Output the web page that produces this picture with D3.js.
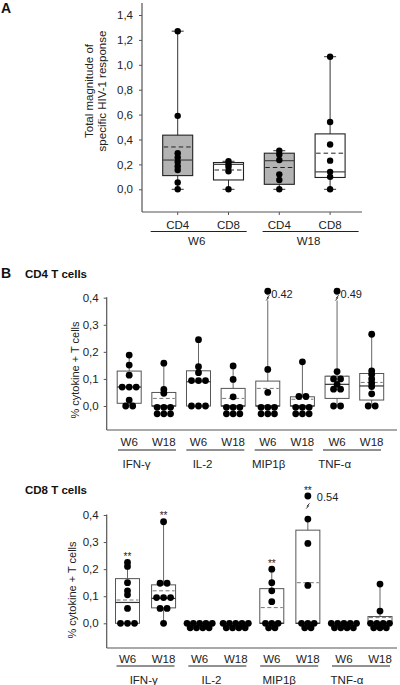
<!DOCTYPE html>
<html><head><meta charset="utf-8">
<script src="https://cdn.jsdelivr.net/npm/d3@7"></script>
<style>body{margin:0;background:#fff}svg{display:block}</style>
</head><body><svg id="c" width="400" height="685"></svg>
<script>
// ---------- Panel A data ----------
const aCategories = ["CD4", "CD8", "CD4", "CD8"];
const aWeeks = ["W6", "W18"];
const aFillGray = [true, false, true, false];
const aPoints = [
  [1.27, 0.59, 0.29, 0.255, 0.22, 0.185, 0.155, 0.055, 0],
  [0.225, 0.2, 0.18, 0.145, 0],
  [0.31, 0.28, 0.235, 0.12, 0.075, 0],
  [1.065, 0.54, 0.36, 0.23, 0.14, 0.1, 0]
];
const aQ1 = [0.11, 0.075, 0.04, 0.095];
const aMedian = [0.235, 0.2, 0.23, 0.14];
const aQ3 = [0.435, 0.215, 0.29, 0.445];
const aMean = [0.34, 0.155, 0.175, 0.29];
const aTicks = [0, 0.2, 0.4, 0.6, 0.8, 1.0, 1.2, 1.4];

// ---------- Panel B data ----------
const cytokines = ["IFN-γ", "IL-2", "MIP1β", "TNF-α"];
const weeks = ["W6", "W18"];
const bTicks = [0, 0.1, 0.2, 0.3, 0.4];
// order: IFN W6, IFN W18, IL-2 W6, IL-2 W18, MIP W6, MIP W18, TNF W6, TNF W18
const cd4Points = [
  [0.188, 0.151, 0.114, 0.07, 0.07, 0.07, 0.022, 0, 0],
  [0.158, 0.061, 0.047, 0, 0, 0, 0, 0, 0],
  [0.245, 0.145, 0.123, 0.094, 0.094, 0.094, 0, 0, 0],
  [0.148, 0.098, 0.034, 0, 0, 0, 0, 0, 0],
  [0.42, 0.135, 0.05, 0, 0, 0, 0, 0, 0],
  [0.163, 0.035, 0.035, 0, 0, 0, 0, 0, 0],
  [0.49, 0.127, 0.1, 0.1, 0.08, 0.062, 0.062, 0, 0],
  [0.265, 0.13, 0.117, 0.1, 0.085, 0.072, 0.045, 0, 0]
];
const cd4Q1 = [0.01, 0, 0, 0, 0, 0, 0.028, 0.022];
const cd4Median = [0.07, 0, 0.09, 0, 0, 0, 0.08, 0.074];
const cd4Q3 = [0.129, 0.05, 0.13, 0.065, 0.092, 0.034, 0.11, 0.12];
const cd4Mean = [0.072, 0.028, 0.09, 0.028, 0.065, 0.025, 0.11, 0.087];
const cd4WhiskerHi = [0.188, 0.158, 0.245, 0.148, 0.42, 0.163, 0.49, 0.265];
const cd4Sig = ["", "", "", "", "", "", "", ""];

const cd8Points = [
  [0.225, 0.21, 0.15, 0.12, 0.105, 0.055, 0, 0, 0],
  [0.375, 0.148, 0.148, 0.095, 0.095, 0.095, 0.055, 0.055, 0],
  [0, 0, 0, 0, 0, 0, 0, 0, 0],
  [0, 0, 0, 0, 0, 0, 0, 0, 0],
  [0.2, 0.15, 0.12, 0.08, 0, 0, 0, 0, 0],
  [0.54, 0.385, 0.295, 0.14, 0, 0, 0, 0, 0],
  [0, 0, 0, 0, 0, 0, 0, 0, 0],
  [0.145, 0.045, 0, 0, 0, 0, 0, 0, 0]
];
const cd8Q1 = [0, 0.057, null, null, 0, 0, null, 0];
const cd8Median = [0.077, 0.092, null, null, 0, 0, null, 0];
const cd8Q3 = [0.165, 0.142, null, null, 0.128, 0.344, null, 0.025];
const cd8Mean = [0.086, 0.12, null, null, 0.058, 0.15, null, 0.021];
const cd8WhiskerHi = [0.225, 0.375, 0, 0, 0.2, 0.385, 0, 0.145];
const cd8Sig = ["**", "**", "", "", "**", "**", "", ""];

// ---------- helpers ----------
const FONT = '"Liberation Sans", Arial, Helvetica, sans-serif';
const TXT = "#222";
const comma = v => d3.format(".1f")(v).replace(".", ",");
const svg = d3.select("#c").style("font-family", FONT);

function dotLayout(vals, cx, yf) {
  const out = [];
  const groups = d3.groups(vals, v => v.toFixed(3));
  for (const [, arr] of groups) {
    const v = arr[0], n = arr.length, y = yf(v);
    if (n <= 3) {
      arr.forEach((_, i) => out.push([cx + (i - (n - 1) / 2) * 7, y]));
    } else {
      const top = Math.ceil(n / 2), bot = n - top, grid = top === bot;
      const dx = grid ? 6.7 : 6.3, dy = grid ? 6.5 : 4.5, y1 = y + (grid ? 1.3 : 0);
      for (let i = 0; i < top; i++) out.push([cx + (i - (top - 1) / 2) * dx, y1]);
      for (let i = 0; i < bot; i++) out.push([cx + (i - (bot - 1) / 2) * dx, y1 + dy]);
    }
  }
  return out;
}

// ---------- Panel A ----------
(function () {
  const g = svg.append("g");
  const x = d3.scaleBand().domain(d3.range(aCategories.length)).range([152.3, 355.5]);
  const y = d3.scaleLinear().domain([0, 1.4]).range([189.3, 15]);
  const wk = d3.scalePoint().domain(aWeeks).range([198.7, 310.6]);
  const bw = 30;

  g.append("text").text("A").attr("x", 1).attr("y", 13)
    .attr("font-size", 14).attr("font-weight", "bold").attr("fill", "#111");

  g.append("line").attr("x1", 142).attr("x2", 142).attr("y1", 3).attr("y2", 212)
    .attr("stroke", "#555").attr("stroke-width", 1.2);
  g.append("line").attr("x1", 142).attr("x2", 362).attr("y1", 212).attr("y2", 212)
    .attr("stroke", "#555").attr("stroke-width", 1.2);

  const ya = g.append("g").attr("transform", "translate(142,0)")
    .call(d3.axisLeft(y).tickValues(aTicks).tickSize(3).tickPadding(6).tickFormat(comma));
  ya.select(".domain").remove();
  ya.selectAll("line").attr("stroke", "#555");
  ya.selectAll("text").attr("font-size", 11.5).attr("fill", TXT).attr("font-family", FONT);

  const title = g.append("text").attr("transform", "translate(92.5,91) rotate(-90)")
    .attr("text-anchor", "middle").attr("font-size", 11.5).attr("fill", TXT);
  title.append("tspan").attr("x", 0).attr("y", 0).text("Total magnitude of");
  title.append("tspan").attr("x", 0).attr("y", 13.5).text("specific HIV-1 response");

  aCategories.forEach((c, i) => {
    const cx = x(i) + x.bandwidth() / 2;
    const pts = aPoints[i];
    const lo = d3.min(pts), hi = d3.max(pts);
    g.append("line").attr("x1", cx).attr("x2", cx).attr("y1", y(hi)).attr("y2", y(lo))
      .attr("stroke", "#333");
    [lo, hi].forEach(v => g.append("line").attr("x1", cx - 6).attr("x2", cx + 6)
      .attr("y1", y(v)).attr("y2", y(v)).attr("stroke", "#333"));
    g.append("rect").attr("x", cx - bw / 2).attr("width", bw)
      .attr("y", y(aQ3[i])).attr("height", y(aQ1[i]) - y(aQ3[i]))
      .attr("fill", aFillGray[i] ? "#b3b3b3" : "#fff").attr("stroke", "#222").attr("stroke-width", 1.1);
    g.append("line").attr("x1", cx - bw / 2).attr("x2", cx + bw / 2)
      .attr("y1", y(aMedian[i])).attr("y2", y(aMedian[i])).attr("stroke", "#444").attr("stroke-width", 1.2);
    g.append("line").attr("x1", cx - bw / 2 + 1).attr("x2", cx + bw / 2 - 1)
      .attr("y1", y(aMean[i])).attr("y2", y(aMean[i])).attr("stroke", "#222")
      .attr("stroke-dasharray", "4.5,3");
    dotLayout(pts, cx, y).forEach(([px, py]) =>
      g.append("circle").attr("cx", px).attr("cy", py).attr("r", 3.2).attr("fill", "#000"));
    g.append("line").attr("x1", cx).attr("x2", cx).attr("y1", 212).attr("y2", 215).attr("stroke", "#555");
    g.append("text").text(c).attr("x", cx).attr("y", 229).attr("text-anchor", "middle")
      .attr("font-size", 11.5).attr("fill", TXT);
  });
  aWeeks.forEach(w => {
    const c = wk(w);
    g.append("line").attr("x1", c - 48).attr("x2", c + 48).attr("y1", 231.5).attr("y2", 231.5)
      .attr("stroke", "#222");
    g.append("text").text(w).attr("x", c - 2).attr("y", 245).attr("text-anchor", "middle")
      .attr("font-size", 11.5).attr("fill", TXT);
  });
})();

// ---------- Panel B ----------
function drawB(o) {
  const g = svg.append("g");
  const keys = d3.range(8);
  const x = d3.scalePoint().domain(keys).range(o.xr);
  const y = d3.scaleLinear().domain([0, 0.4]).range([o.y0, o.y4]);
  const grp = d3.scalePoint().domain(cytokines).range(o.groupR);
  const grpLab = d3.scalePoint().domain(cytokines).range(o.groupLabelR);
  const py = v => v > 0.4 ? y(0.4) - o.breakOffset : y(v);
  const bw = 24;

  g.append("text").text(o.title).attr("x", 25).attr("y", o.titleBase)
    .attr("font-size", 11.5).attr("font-weight", "bold").attr("fill", "#111");

  g.append("line").attr("x1", 106.7).attr("x2", 106.7).attr("y1", y(0.4) - 0.5).attr("y2", o.axisBottom)
    .attr("stroke", "#555").attr("stroke-width", 1.2);
  g.append("line").attr("x1", 106.7).attr("x2", 397).attr("y1", o.axisBottom).attr("y2", o.axisBottom)
    .attr("stroke", "#555").attr("stroke-width", 1.2);
  const ya = g.append("g").attr("transform", "translate(106.7,0)")
    .call(d3.axisLeft(y).tickValues(bTicks).tickSize(3).tickPadding(5).tickFormat(comma));
  ya.select(".domain").remove();
  ya.selectAll("line").attr("stroke", "#555");
  ya.selectAll("text").attr("font-size", 11.5).attr("fill", TXT).attr("font-family", FONT);

  g.append("text").text("% cytokine + T cells")
    .attr("transform", `translate(${o.ytitleX},${o.ytitleY}) rotate(-90)`)
    .attr("text-anchor", "middle").attr("font-size", 11).attr("fill", TXT);

  keys.forEach(i => {
    const cx = x(i);
    const pts = o.points[i];
    const lo = d3.min(pts);
    const hasBox = o.q3[i] !== null;
    const dots = dotLayout(pts, cx, py);
    if (hasBox) {
      const hiY = py(o.whiskerHi[i]);
      if (hiY < y(o.q3[i])) g.append("line").attr("x1", cx).attr("x2", cx)
        .attr("y1", hiY).attr("y2", y(o.q3[i])).attr("stroke", "#666");
      if (lo < o.q1[i]) g.append("line").attr("x1", cx).attr("x2", cx)
        .attr("y1", y(o.q1[i])).attr("y2", y(lo)).attr("stroke", "#666");
      g.append("rect").attr("x", cx - bw / 2).attr("width", bw)
        .attr("y", y(o.q3[i])).attr("height", Math.max(0, y(o.q1[i]) - y(o.q3[i])))
        .attr("fill", "none").attr("stroke", "#555").attr("stroke-width", 1);
      g.append("line").attr("x1", cx - bw / 2).attr("x2", cx + bw / 2)
        .attr("y1", y(o.median[i])).attr("y2", y(o.median[i])).attr("stroke", "#333").attr("stroke-width", 1.2);
      g.append("line").attr("x1", cx - bw / 2 + 1).attr("x2", cx + bw / 2 - 1)
        .attr("y1", y(o.mean[i])).attr("y2", y(o.mean[i])).attr("stroke", "#777")
        .attr("stroke-dasharray", "4,2.5");
    }
    dots.forEach(([dx, dy]) =>
      g.append("circle").attr("cx", dx).attr("cy", dy).attr("r", 3.4).attr("fill", "#000"));
    // broken (off-scale) values
    pts.filter(v => v > 0.4).forEach(v => {
      const dy = py(v), by = dy + o.breakGap;
      g.append("rect").attr("x", cx - 2.5).attr("y", by - 2.5).attr("width", 5).attr("height", 5).attr("fill", "#fff");
      g.append("path").attr("d", `M${cx - 1.6},${by + 2.6}L${cx + 0.8},${by - 0.2}L${cx - 0.8},${by + 0.2}L${cx + 1.6},${by - 2.6}`)
        .attr("fill", "none").attr("stroke", "#222").attr("stroke-width", 0.9);
      g.append("text").text(d3.format(".2f")(v)).attr("x", cx + o.labelDx).attr("y", dy + o.labelDy)
        .attr("font-size", 11).attr("fill", TXT);
    });
    if (o.sig[i]) {
      const top = d3.min(dots, d => d[1]);
      g.append("text").text(o.sig[i]).attr("x", cx).attr("y", top - 2.5).attr("text-anchor", "middle")
        .attr("font-size", 10).attr("fill", TXT);
    }
    g.append("text").text(weeks[i % 2]).attr("x", cx).attr("y", o.xLabelBase).attr("text-anchor", "middle")
      .attr("font-size", 11.5).attr("fill", TXT);
  });
  cytokines.forEach(c => {
    const cc = grp(c);
    g.append("line").attr("x1", cc - 29).attr("x2", cc + 29).attr("y1", o.underlineY).attr("y2", o.underlineY)
      .attr("stroke", "#222");
    g.append("text").text(c).attr("x", grpLab(c)).attr("y", o.groupLabelBase).attr("text-anchor", "middle")
      .attr("font-size", 11.5).attr("fill", TXT);
  });
}

svg.append("text").text("B").attr("x", 1).attr("y", 278)
  .attr("font-size", 14).attr("font-weight", "bold").attr("fill", "#111");

drawB({
  title: "CD4 T cells", titleBase: 278,
  points: cd4Points, q1: cd4Q1, median: cd4Median, q3: cd4Q3, mean: cd4Mean,
  whiskerHi: cd4WhiskerHi, sig: cd4Sig,
  y0: 406, y4: 297.7, axisBottom: 430, xr: [129.2, 371.7],
  groupR: [147, 352], groupLabelR: [136.5, 334.7],
  breakOffset: 6.5, breakGap: 6.7, labelDx: 3.5, labelDy: 6.5,
  ytitleX: 79, ytitleY: 370,
  xLabelBase: 446, underlineY: 450, groupLabelBase: 467.5
});
drawB({
  title: "CD8 T cells", titleBase: 494,
  points: cd8Points, q1: cd8Q1, median: cd8Median, q3: cd8Q3, mean: cd8Mean,
  whiskerHi: cd8WhiskerHi, sig: cd8Sig,
  y0: 623.3, y4: 515, axisBottom: 648, xr: [127.5, 380],
  groupR: [145.5, 361], groupLabelR: [143.7, 347],
  breakOffset: 19, breakGap: 10, labelDx: 9, labelDy: 4.5,
  ytitleX: 76, ytitleY: 590,
  xLabelBase: 662.5, underlineY: 666, groupLabelBase: 684
});
</script>
</body></html>
